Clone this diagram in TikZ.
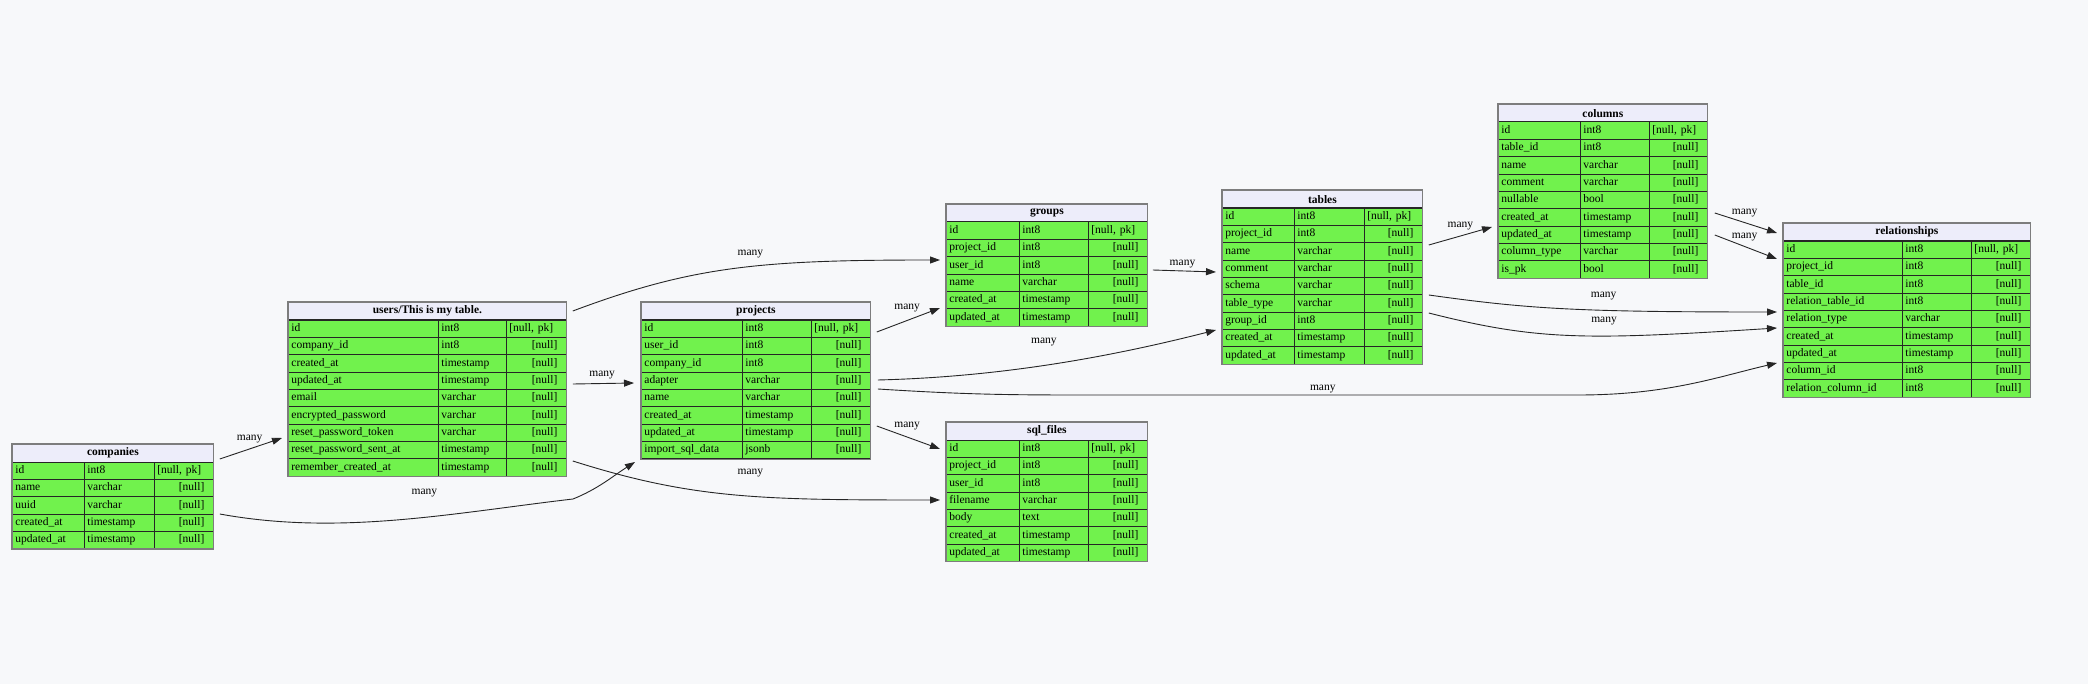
\documentclass[tikz,border=0pt]{standalone}
\usepackage{fontspec}
\setmainfont{Liberation Serif}
\usetikzlibrary{matrix,arrows.meta}
\definecolor{paper}{RGB}{247,248,250}
\definecolor{rowgreen}{RGB}{113,242,77}
\definecolor{headblue}{RGB}{237,237,250}
\definecolor{framegray}{RGB}{125,125,125}
\newcommand{\tabfont}{\fontsize{11.5pt}{13pt}\selectfont}
\newcommand{\nul}{[null]\kern6pt}
\newcommand{\pk}{[null, pk]}
\newcommand{\rowh}{17.35pt}
\tikzset{
  head/.style={draw=black!85, fill=headblue, line width=0.8pt, anchor=north west, minimum height=17.5pt, inner sep=0pt, font=\tabfont\bfseries},
  cell/.style={draw=black!85, fill=rowgreen, line width=0.8pt, minimum height=\rowh, text height=8pt, text depth=2.5pt, inner xsep=3pt, inner ysep=0pt, align=left},
  pkcell/.style={align=left},
  tbl/.style={matrix of nodes, anchor=north west, inner sep=0pt, outer sep=0pt, row sep=-0.8pt, column sep=-0.8pt, nodes={cell}},
  cols/.style n args={3}{column 1/.style={nodes={text width=#1}}, column 2/.style={nodes={text width=#2}}, column 3/.style={nodes={text width=#3, align=right}}},
  frame/.style={draw=framegray, line width=1.2pt},
  fk/.style={draw=black!85, line width=0.9pt, -{Triangle[length=10pt, width=7pt]}},
  lbl/.style={inner sep=0pt}
}

\begin{document}
\begin{tikzpicture}[x=1pt, y=-1pt, font=\tabfont]
\fill[paper] (0,0) rectangle (2088,684);
%companies
\node[head, minimum width=201pt] (companies) at (12,444) {companies};
\matrix[tbl, cols={66pt}{64pt}{53pt}] (companies-f) at ([yshift=0.8pt]companies.south west) {
id & int8 & |[pkcell]| \pk \\
name & varchar & \nul \\
uuid & varchar & \nul \\
created\_at & timestamp & \nul \\
updated\_at & timestamp & \nul \\
};
\draw[frame] (companies.north west) rectangle (companies-f.south east);
%users
\node[head, minimum width=278pt] (users) at (288,302) {users/This is my table.};
\matrix[tbl, cols={144pt}{62pt}{54pt}] (users-f) at ([yshift=0.8pt]users.south west) {
id & int8 & |[pkcell]| \pk \\
company\_id & int8 & \nul \\
created\_at & timestamp & \nul \\
updated\_at & timestamp & \nul \\
email & varchar & \nul \\
encrypted\_password & varchar & \nul \\
reset\_password\_token & varchar & \nul \\
reset\_password\_sent\_at & timestamp & \nul \\
remember\_created\_at & timestamp & \nul \\
};
\draw[frame] (users.north west) rectangle (users-f.south east);
%projects
\node[head, minimum width=229pt] (projects) at (641,302) {projects};
\matrix[tbl, cols={95pt}{63pt}{53pt}] (projects-f) at ([yshift=0.8pt]projects.south west) {
id & int8 & |[pkcell]| \pk \\
user\_id & int8 & \nul \\
company\_id & int8 & \nul \\
adapter & varchar & \nul \\
name & varchar & \nul \\
created\_at & timestamp & \nul \\
updated\_at & timestamp & \nul \\
import\_sql\_data & jsonb & \nul \\
};
\draw[frame] (projects.north west) rectangle (projects-f.south east);
%groups
\node[head, minimum width=201pt] (groups) at (946,204) {groups};
\matrix[tbl, cols={67pt}{63pt}{53pt}] (groups-f) at ([yshift=0.8pt]groups.south west) {
id & int8 & |[pkcell]| \pk \\
project\_id & int8 & \nul \\
user\_id & int8 & \nul \\
name & varchar & \nul \\
created\_at & timestamp & \nul \\
updated\_at & timestamp & \nul \\
};
\draw[frame] (groups.north west) rectangle (groups-f.south east);
%sql_files
\node[head, minimum width=201pt] (sqlfiles) at (946,422) {sql\_files};
\matrix[tbl, cols={67pt}{63pt}{53pt}] (sqlfiles-f) at ([yshift=0.8pt]sqlfiles.south west) {
id & int8 & |[pkcell]| \pk \\
project\_id & int8 & \nul \\
user\_id & int8 & \nul \\
filename & varchar & \nul \\
body & text & \nul \\
created\_at & timestamp & \nul \\
updated\_at & timestamp & \nul \\
};
\draw[frame] (sqlfiles.north west) rectangle (sqlfiles-f.south east);
%tables
\node[head, minimum width=200pt] (tables) at (1222,190) {tables};
\matrix[tbl, cols={66pt}{64pt}{52pt}] (tables-f) at ([yshift=0.8pt]tables.south west) {
id & int8 & |[pkcell]| \pk \\
project\_id & int8 & \nul \\
name & varchar & \nul \\
comment & varchar & \nul \\
schema & varchar & \nul \\
table\_type & varchar & \nul \\
group\_id & int8 & \nul \\
created\_at & timestamp & \nul \\
updated\_at & timestamp & \nul \\
};
\draw[frame] (tables.north west) rectangle (tables-f.south east);
%columns
\node[head, minimum width=209pt] (columns) at (1498,104) {columns};
\matrix[tbl, cols={76pt}{63pt}{52pt}] (columns-f) at ([yshift=0.8pt]columns.south west) {
id & int8 & |[pkcell]| \pk \\
table\_id & int8 & \nul \\
name & varchar & \nul \\
comment & varchar & \nul \\
nullable & bool & \nul \\
created\_at & timestamp & \nul \\
updated\_at & timestamp & \nul \\
column\_type & varchar & \nul \\
is\_pk & bool & \nul \\
};
\draw[frame] (columns.north west) rectangle (columns-f.south east);
%relationships
\node[head, minimum width=247pt] (relationships) at (1783,223) {relationships};
\matrix[tbl, cols={113pt}{63pt}{53pt}] (relationships-f) at ([yshift=0.8pt]relationships.south west) {
id & int8 & |[pkcell]| \pk \\
project\_id & int8 & \nul \\
table\_id & int8 & \nul \\
relation\_table\_id & int8 & \nul \\
relation\_type & varchar & \nul \\
created\_at & timestamp & \nul \\
updated\_at & timestamp & \nul \\
column\_id & int8 & \nul \\
relation\_column\_id & int8 & \nul \\
};
\draw[frame] (relationships.north west) rectangle (relationships-f.south east);
%edges
\draw[fk] ([shift={(6,15)}]companies.north east) -- node[lbl, pos=0.48, yshift=10pt] {many} ([shift={(-6,136)}]users.north west);
\draw[fk] ([shift={(6,70)}]companies.north east) .. controls +(120,22) and +(-120,14) .. ([shift={(-68,197)}]projects.north west) node[lbl, pos=0.58, yshift=24pt] {many} .. controls +(25,-10) and +(-22,14) .. ([shift={(-6,160)}]projects.north west);
\draw[fk] ([shift={(6,9)}]users.north east) .. controls +(120,-45) and +(-180,0) .. ([shift={(-6,56)}]groups.north west) node[lbl, pos=0.55, yshift=13pt] {many};
\draw[fk] ([shift={(6,82)}]users.north east) -- node[lbl, pos=0.48, yshift=8pt] {many} ([shift={(-7,81)}]projects.north west);
\draw[fk] ([shift={(6,159)}]users.north east) .. controls +(120,38) and +(-180,0) .. ([shift={(-6,78)}]sqlfiles.north west) node[lbl, pos=0.55, yshift=23pt] {many};
\draw[fk] ([shift={(6,30)}]projects.north east) -- node[lbl, pos=0.48, yshift=12pt] {many} ([shift={(-6,104)}]groups.north west);
\draw[fk] ([shift={(6,124)}]projects.north east) -- node[lbl, pos=0.48, yshift=11pt] {many} ([shift={(-6,27)}]sqlfiles.north west);
\draw[fk] ([shift={(7,78)}]projects.north east) .. controls +(120,-3) and +(-110,28) .. ([shift={(-6,140)}]tables.north west) node[lbl, pos=0.48, yshift=23pt] {many};
\draw[fk] ([shift={(7,87)}]projects.north east) .. controls +(80,5) and +(-80,0) .. ++(200,6) -- node[lbl, pos=0.49, yshift=6pt] {many} ++(500,0) .. controls +(90,0) and +(-60,14) .. ([shift={(-6,140)}]relationships.north west);
\draw[fk] ([shift={(5,66)}]groups.north east) -- node[lbl, pos=0.47, yshift=7pt] {many} ([shift={(-6,82)}]tables.north west);
\draw[fk] ([shift={(6,55)}]tables.north east) -- node[lbl, pos=0.5, yshift=10pt] {many} ([shift={(-6,123)}]columns.north west);
\draw[fk] ([shift={(6,105)}]tables.north east) .. controls +(100,14) and +(-200,0) .. ([shift={(-6,89)}]relationships.north west) node[lbl, pos=0.62, yshift=14pt] {many};
\draw[fk] ([shift={(6,123)}]tables.north east) .. controls +(110,28) and +(-190,12) .. ([shift={(-6,105)}]relationships.north west) node[lbl, pos=0.6, yshift=15pt] {many};
\draw[fk] ([shift={(7,109)}]columns.north east) -- node[lbl, pos=0.48, yshift=10pt] {many} ([shift={(-6,10)}]relationships.north west);
\draw[fk] ([shift={(7,131)}]columns.north east) -- node[lbl, pos=0.48, yshift=9pt] {many} ([shift={(-6,36)}]relationships.north west);
\end{tikzpicture}
\end{document}
